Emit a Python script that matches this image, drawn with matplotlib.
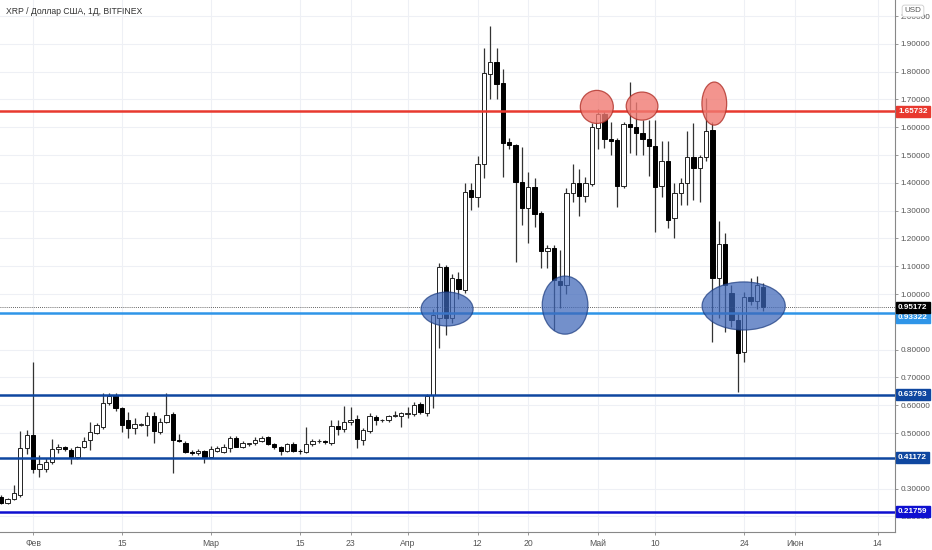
import numpy as np
import pandas as pd
import matplotlib
matplotlib.use("Agg")
import matplotlib.pyplot as plt
import matplotlib.dates as mdates
from matplotlib.patches import Ellipse

# daily candles XRP/USD, starting 2021-01-27
start = "2021-01-27"
opens = [0.270, 0.250, 0.262, 0.277, 0.446, 0.493, 0.370, 0.369, 0.397, 0.443,
         0.450, 0.439, 0.414, 0.450, 0.475, 0.501, 0.523, 0.609, 0.637, 0.589,
         0.547, 0.517, 0.530, 0.529, 0.561, 0.505, 0.541, 0.567, 0.475, 0.465,
         0.433, 0.427, 0.436, 0.415, 0.437, 0.433, 0.446, 0.482, 0.451, 0.460,
         0.463, 0.471, 0.484, 0.460, 0.451, 0.436, 0.461, 0.436, 0.433, 0.460,
         0.470, 0.471, 0.463, 0.525, 0.513, 0.541, 0.549, 0.475, 0.507, 0.559,
         0.545, 0.545, 0.561, 0.561, 0.570, 0.567, 0.604, 0.571, 0.635, 0.912,
         1.098, 0.912, 1.053, 1.014, 1.374, 1.350, 1.468, 1.791, 1.836, 1.758,
         1.546, 1.536, 1.404, 1.308, 1.386, 1.290, 1.155, 1.167, 1.048, 1.032,
         1.362, 1.401, 1.353, 1.397, 1.596, 1.647, 1.557, 1.553, 1.387, 1.612,
         1.602, 1.578, 1.557, 1.532, 1.388, 1.480, 1.272, 1.365, 1.398, 1.494,
         1.452, 1.492, 1.590, 1.056, 1.180, 1.005, 0.906, 0.790, 0.990, 0.976,
         1.026]
highs = [0.276, 0.268, 0.313, 0.508, 0.512, 0.756, 0.420, 0.410, 0.478, 0.462,
         0.455, 0.445, 0.455, 0.486, 0.541, 0.535, 0.643, 0.643, 0.643, 0.595,
         0.577, 0.553, 0.535, 0.577, 0.577, 0.555, 0.645, 0.575, 0.497, 0.470,
         0.440, 0.441, 0.440, 0.452, 0.455, 0.462, 0.490, 0.490, 0.470, 0.465,
         0.487, 0.489, 0.488, 0.463, 0.455, 0.465, 0.466, 0.442, 0.520, 0.480,
         0.478, 0.476, 0.547, 0.545, 0.597, 0.595, 0.565, 0.517, 0.573, 0.565,
         0.552, 0.565, 0.578, 0.575, 0.594, 0.610, 0.612, 0.640, 0.945, 1.113,
         1.105, 1.072, 1.080, 1.398, 1.400, 1.496, 1.884, 1.964, 1.884, 1.808,
         1.560, 1.540, 1.528, 1.440, 1.417, 1.300, 1.175, 1.175, 1.158, 1.380,
         1.467, 1.450, 1.420, 1.616, 1.664, 1.660, 1.620, 1.560, 1.620, 1.762,
         1.692, 1.626, 1.626, 1.626, 1.550, 1.550, 1.398, 1.416, 1.585, 1.614,
         1.500, 1.704, 1.620, 1.264, 1.218, 1.032, 0.930, 1.008, 1.056, 1.065,
         1.041]
lows = [0.244, 0.246, 0.258, 0.270, 0.425, 0.356, 0.340, 0.360, 0.390, 0.428,
        0.435, 0.389, 0.405, 0.445, 0.439, 0.495, 0.515, 0.600, 0.580, 0.505,
        0.482, 0.496, 0.525, 0.489, 0.465, 0.497, 0.535, 0.357, 0.468, 0.428,
        0.422, 0.420, 0.392, 0.410, 0.432, 0.428, 0.430, 0.448, 0.446, 0.455,
        0.458, 0.466, 0.456, 0.443, 0.420, 0.432, 0.430, 0.425, 0.428, 0.455,
        0.463, 0.460, 0.458, 0.492, 0.505, 0.530, 0.445, 0.457, 0.500, 0.530,
        0.538, 0.540, 0.556, 0.523, 0.553, 0.560, 0.570, 0.562, 0.590, 0.805,
        0.853, 0.895, 0.981, 1.005, 1.302, 1.314, 1.416, 1.700, 1.700, 1.420,
        1.520, 1.116, 1.248, 1.182, 1.240, 1.092, 1.092, 0.870, 0.949, 1.000,
        1.330, 1.280, 1.330, 1.390, 1.521, 1.524, 1.500, 1.314, 1.380, 1.506,
        1.500, 1.500, 1.424, 1.224, 1.350, 1.236, 1.200, 1.320, 1.320, 1.338,
        1.330, 1.480, 0.828, 0.912, 0.864, 0.880, 0.649, 0.756, 0.960, 0.945,
        0.940]
closes = [0.250, 0.262, 0.285, 0.446, 0.493, 0.370, 0.390, 0.397, 0.443, 0.450,
          0.443, 0.414, 0.450, 0.472, 0.505, 0.529, 0.609, 0.633, 0.589, 0.529,
          0.517, 0.532, 0.531, 0.561, 0.508, 0.541, 0.565, 0.475, 0.472, 0.433,
          0.427, 0.436, 0.415, 0.443, 0.446, 0.451, 0.482, 0.451, 0.465, 0.461,
          0.475, 0.483, 0.460, 0.451, 0.436, 0.461, 0.436, 0.434, 0.460, 0.473,
          0.471, 0.466, 0.525, 0.516, 0.541, 0.545, 0.477, 0.511, 0.561, 0.545,
          0.546, 0.560, 0.563, 0.571, 0.572, 0.601, 0.574, 0.633, 0.925, 1.098,
          0.912, 1.056, 1.017, 1.368, 1.350, 1.468, 1.794, 1.836, 1.755, 1.544,
          1.536, 1.404, 1.308, 1.386, 1.288, 1.156, 1.167, 1.050, 1.032, 1.365,
          1.401, 1.353, 1.399, 1.599, 1.647, 1.556, 1.550, 1.387, 1.612, 1.602,
          1.578, 1.556, 1.532, 1.386, 1.480, 1.266, 1.365, 1.398, 1.494, 1.452,
          1.492, 1.588, 1.056, 1.180, 1.032, 0.906, 0.787, 0.990, 0.976, 1.032,
          0.95172]

# drawn levels
levels = [1.65732, 0.93322, 0.63793, 0.41172, 0.21759]
level_colors = ["#e8392f", "#2f95e8", "#0f47a0", "#0f47a0", "#0e0fd0"]
last_price = 0.95172

# highlighted zones: (date, price, width in days, height in price)
blue_zones = [("2021-04-07 05:00", 0.946, 8.2, 0.122),
              ("2021-04-25 19:00", 0.960, 7.2, 0.209),
              ("2021-05-23 22:00", 0.957, 13.1, 0.173)]
red_zones = [("2021-04-30 19:00", 1.673, 5.2, 0.119),
             ("2021-05-07 22:00", 1.676, 5.0, 0.101),
             ("2021-05-19 07:00", 1.685, 3.9, 0.155)]

tick_dates = ["2021-02-01", "2021-02-15", "2021-03-01", "2021-03-15", "2021-03-23",
              "2021-04-01", "2021-04-12", "2021-04-20", "2021-05-01", "2021-05-10",
              "2021-05-24", "2021-06-01", "2021-06-14"]
tick_labels = ["Фев", "15", "Мар", "15", "23", "Апр", "12", "20", "Май", "10",
               "24", "Июн", "14"]

plt.rcParams['font.family'] = ['Liberation Sans', 'DejaVu Sans']

fig = plt.figure(figsize=(9.32, 5.5), dpi=100)
ax = fig.add_axes([0, 18 / 550, 895 / 932, 532 / 550])

x = mdates.date2num(pd.date_range(start, periods=len(opens), freq="D"))
o = np.array(opens)
c = np.array(closes)
h = np.array(highs)
l = np.array(lows)
up = c >= o

ax.vlines(x, l, h, color="#333333", linewidth=0.9, zorder=3)
body_h = np.maximum(np.abs(c - o), 0.003)
ax.bar(x[up], body_h[up], bottom=np.minimum(o, c)[up], width=0.68,
       color="white", edgecolor="#222222", linewidth=0.7, zorder=4)
ax.bar(x[~up], body_h[~up], bottom=np.minimum(o, c)[~up], width=0.68,
       color="black", edgecolor="black", linewidth=0.7, zorder=4)

for lv, col in zip(levels, level_colors):
    ax.axhline(lv, color=col, linewidth=1.8, zorder=5)
ax.axhline(last_price, color="#333333", linewidth=0.6, linestyle=(0, (1, 1.5)), zorder=5)

for d, p, w, hh in blue_zones:
    ax.add_patch(Ellipse((mdates.datestr2num(d), p), w, hh, facecolor="#3d66b8",
                         edgecolor="#1c3c80", alpha=0.72, linewidth=0.9, zorder=6))
for d, p, w, hh in red_zones:
    ax.add_patch(Ellipse((mdates.datestr2num(d), p), w, hh, facecolor="#f07a72",
                         edgecolor="#b03028", alpha=0.8, linewidth=0.9, zorder=6))

x0 = mdates.datestr2num(start)
ax.set_xlim(x0 - 0.2, x0 + 140.75)
ax.set_ylim(0.1439, 2.0576)

ax.set_xticks(mdates.datestr2num(tick_dates))
ax.set_xticklabels(tick_labels)
yt = np.round(np.arange(0.2, 2.01, 0.1), 2)
yt = yt[(yt != 0.4) & (yt != 0.9)]  # hidden behind the level labels
ax.set_yticks(yt)
ax.set_yticklabels([f"{v:.5f}" for v in yt])
ax.yaxis.tick_right()
ax.tick_params(axis="both", colors="#888888", labelcolor="#555555",
               length=2.5, width=0.6, pad=1.5)
ax.tick_params(axis="x", labelsize=6.2, pad=2.5)
ax.tick_params(axis="y", labelsize=5.9)
ax.grid(True, color="#eef0f5", linewidth=0.8, zorder=0)
ax.set_axisbelow(True)
for side in ["top", "left"]:
    ax.spines[side].set_visible(False)
ax.spines["right"].set_color("#888888")
ax.spines["bottom"].set_color("#888888")
ax.spines["right"].set_linewidth(0.8)
ax.spines["bottom"].set_linewidth(0.8)

# price labels on the axis (blue one pushed under the last-price label)
tr = ax.get_yaxis_transform()
label_shift = {0.93322: -3.8}
for lv, col in zip(levels + [last_price], level_colors + ["#000000"]):
    ax.annotate(f"{lv:.5f}", xy=(1.0, lv), xycoords=tr,
                xytext=(2.2, label_shift.get(lv, 0)), textcoords="offset points",
                ha="left", va="center", fontsize=5.9, color="white",
                fontweight="bold", zorder=20, annotation_clip=False,
                bbox=dict(boxstyle="square,pad=0.25", facecolor=col, edgecolor=col))

fig.text(913 / 932, 1 - 11 / 550, "USD", ha="center", va="center", fontsize=5.8,
         color="#555555",
         bbox=dict(boxstyle="round,pad=0.3", facecolor="white", edgecolor="#cccccc",
                   linewidth=0.6))
fig.text(6 / 932, 1 - 11 / 550, "XRP / Доллар США, 1Д, BITFINEX", ha="left",
         va="center", fontsize=6.2, color="#333333")

fig.savefig("out.png", dpi=100)
